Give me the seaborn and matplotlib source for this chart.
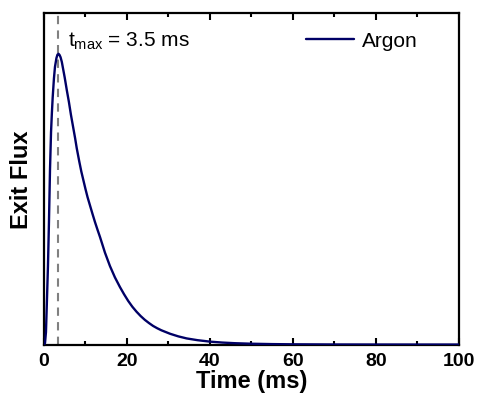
import matplotlib
matplotlib.use('Agg')
import matplotlib.pyplot as plt
import seaborn as sns
import pandas as pd
from matplotlib.ticker import MultipleLocator

# values (normalised exit flux)
time_ms = [0.0, 0.25, 0.48, 0.72, 0.96, 1.2, 1.45, 1.7, 1.9, 2.1, 2.4, 2.65,
           3.0, 3.25, 3.5, 3.75, 4.0, 4.3, 4.65, 5.0, 5.5, 6.0, 6.5, 7.0,
           7.5, 7.9, 8.5, 9.0, 9.5, 10.0, 10.5, 11.1, 11.7, 12.3, 12.9, 13.5,
           14.7, 15.9, 17.1, 18.3, 19.3, 20.3, 21.3, 22.3, 23.3, 24.3, 25.3,
           26.3, 27.3, 28.3, 30.4, 32.4, 34.4, 37.0, 40.0, 43.0, 46.0, 50.0,
           55.0, 60.0, 70.0, 80.0, 90.0, 100.0]
flux = [0.0, 0.005, 0.043, 0.155, 0.27, 0.42, 0.60, 0.73, 0.795, 0.85, 0.915, 0.955,
        0.985, 0.997, 1.0, 0.996, 0.988, 0.972, 0.945, 0.918, 0.875, 0.835, 0.79, 0.75,
        0.71, 0.675, 0.63, 0.595, 0.565, 0.535, 0.507, 0.478, 0.449, 0.421, 0.395, 0.37,
        0.316, 0.27, 0.231, 0.198, 0.173, 0.15, 0.13, 0.113, 0.098, 0.085, 0.074,
        0.064, 0.056, 0.049, 0.037, 0.028, 0.021, 0.015, 0.010, 0.0068, 0.0046, 0.0028,
        0.0015, 0.0008, 0.0002, 0.00005, 0.0, 0.0]
t_max = 3.5
series_name = 'Argon'

df = pd.DataFrame({'Time (ms)': time_ms, 'Exit Flux': flux})

sns.set_style('ticks')
plt.rcParams['font.family'] = ['Liberation Sans', 'DejaVu Sans']
plt.rcParams['mathtext.fontset'] = 'custom'
plt.rcParams['mathtext.rm'] = 'Liberation Sans'
plt.rcParams['text.color'] = 'black'
plt.rcParams['axes.labelcolor'] = 'black'
plt.rcParams['xtick.color'] = 'black'
plt.rcParams['axes.edgecolor'] = 'black'

fig = plt.figure(figsize=(4.78, 4.02), dpi=100)
ax = fig.add_axes([0.092, 0.139, 0.868, 0.826])

ax.axvline(t_max, color='#808080', ls=(0, (4, 3)), lw=1.5, zorder=1)
sns.lineplot(data=df, x='Time (ms)', y='Exit Flux', ax=ax, color='#000066',
             lw=1.7, label=series_name, zorder=3)

ax.set_xlim(0, 100)
ax.set_ylim(-0.002, 1.14)
ax.set_yticks([])
ax.xaxis.set_major_locator(MultipleLocator(20))
ax.xaxis.set_minor_locator(MultipleLocator(10))
ax.tick_params(axis='x', which='major', direction='in', length=5, width=1.5,
               top=True, labelsize=14, pad=5)
ax.tick_params(axis='x', which='minor', direction='in', length=3, width=1.5, top=True)
for lab in ax.get_xticklabels():
    lab.set_fontweight('bold')
for sp in ax.spines.values():
    sp.set_linewidth(1.6)
    sp.set_visible(True)

ax.set_xlabel('Time (ms)', fontsize=17, fontweight='bold', labelpad=0)
ax.set_ylabel('Exit Flux', fontsize=17, fontweight='bold', labelpad=8)

ax.text(5.8, 1.045, r'$\mathregular{t_{max}}$ = 3.5 ms', fontsize=15, va='center')
ax.legend(loc='center left', bbox_to_anchor=(0.631, 0.916), frameon=False,
          fontsize=15, handlelength=2.3, handletextpad=0.38, borderpad=0,
          borderaxespad=0)

fig.savefig('out.png', dpi=100)
